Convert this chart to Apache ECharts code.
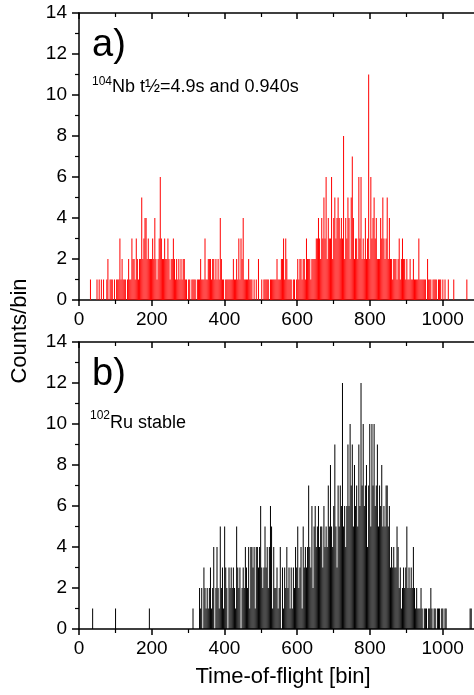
<!DOCTYPE html>
<html>
<head>
<meta charset="utf-8">
<script src="https://cdn.jsdelivr.net/npm/echarts@6/dist/echarts.min.js"></script>
<style>
  html, body { margin: 0; padding: 0; background: #fff; overflow: hidden; }
  #chart { width: 474px; height: 695px; }
</style>
</head>
<body>
<div id="chart"></div>
<script>
const binWidth = 3;
const xMax = 1200;          // the frame is cut at the right edge of the picture
const xTickStep = 200;
const yTickStep = 2;
const yMax = 14;

// a) 104Nb, one row = 90 bins of ToF (3 x 10 bins)
const nbCounts = [
  0,0,0,0,0,0,0,0,0,0,  1,0,0,0,0,0,1,0,1,0,  1,0,1,0,0,1,2,0,1,1,
  1,0,1,0,1,1,1,3,1,2,  1,1,1,0,1,2,1,1,3,2,  2,1,3,2,1,2,2,5,2,3,
  4,4,2,3,2,2,2,3,2,4,  2,1,2,3,6,3,2,2,3,2,  2,3,2,1,2,2,3,2,1,2,
  1,2,1,2,1,2,2,1,1,0,  1,1,0,1,1,1,1,0,1,1,  1,2,1,1,1,3,1,1,2,2,
  2,1,2,2,1,2,1,2,1,4,  2,1,1,0,1,1,1,1,1,1,  1,2,1,1,2,1,3,1,3,2,
  4,1,1,1,1,2,1,1,1,0,  1,0,1,0,2,0,0,1,0,1,  1,1,1,1,0,1,1,1,1,1,
  1,2,1,1,1,2,2,3,1,3,  2,1,1,1,1,0,1,1,0,1,  2,1,2,2,1,2,2,1,3,2,
  2,2,1,2,2,2,2,3,3,4,  3,2,4,3,5,3,6,2,4,3,  3,6,2,4,5,3,4,5,4,3,
  4,3,8,2,4,3,5,4,2,5,  7,4,2,3,3,2,6,3,6,2,  3,2,4,2,3,11,2,6,3,4,
  5,3,4,2,2,2,4,3,5,3,  2,3,5,2,4,2,2,1,2,2,  2,1,2,3,1,2,3,2,2,1,
  2,1,1,2,1,1,2,1,1,1,  1,3,1,1,1,1,1,1,0,2,  1,1,1,0,1,1,1,1,0,1,
  1,1,0,1,0,1,0,0,1,0,  0,0,0,1,0,0,0,0,0,0,  0,0,0,0,0,1,0,0,0,0
];

// b) 102Ru
const ruCounts = [
  0,0,0,0,0,0,0,0,0,0,  0,0,1,0,0,0,0,0,0,0,  0,0,0,0,0,0,0,0,0,0,
  0,0,0,1,0,0,0,0,0,0,  0,0,0,0,0,0,0,0,0,0,  0,0,0,0,0,0,0,0,0,0,
  0,0,0,0,1,0,0,0,0,0,  0,0,0,0,0,0,0,0,0,0,  0,0,0,0,0,0,0,0,0,0,
  0,0,0,0,0,0,0,0,0,0,  0,0,0,0,1,0,0,0,0,0,  2,1,2,0,3,2,1,2,1,2,
  3,1,2,4,0,2,4,2,1,5,  2,3,1,5,3,2,0,3,2,3,  2,3,2,1,5,3,2,3,0,2,
  3,2,4,3,2,4,1,4,4,3,  4,1,4,4,3,4,6,3,2,3,  5,3,4,2,4,6,5,1,4,2,
  2,3,1,2,4,0,3,1,3,2,  4,2,3,1,3,1,3,2,4,3,  5,2,3,4,1,5,3,4,3,4,
  7,4,3,6,2,5,6,4,5,6,  4,5,5,3,6,4,5,4,7,5,  8,5,4,6,9,5,3,7,5,7,
  6,12,5,6,4,6,9,6,10,7, 9,5,8,6,7,5,9,6,12,7, 10,6,7,8,4,7,10,5,10,7,
  10,6,7,9,5,7,6,8,5,6, 5,7,7,5,6,3,4,3,4,3,  3,5,4,2,3,1,2,3,2,3,
  5,2,3,2,3,2,4,2,1,2,  1,1,1,2,1,0,1,1,1,0,  1,1,2,1,0,1,1,0,1,1,
  1,0,1,1,0,1,1,0,0,0,  0,0,0,0,0,0,0,0,0,0,  0,0,0,0,0,0,0,0,1,1
];

const FONT = '"Liberation Sans", Arial, sans-serif';
const chart = echarts.init(document.getElementById('chart'), null, { renderer: 'canvas' });

function toBars(counts) {
  return counts.map((v, i) => [i * binWidth + binWidth / 2, v]);
}

const lineStyle = { color: '#000', width: 1.5 };
const minorStyle = { color: '#000', width: 1.2 };

function xAxesFor(gridIndex) {
  return [
    {
      type: 'value', gridIndex, position: 'bottom',
      min: 0, max: xMax, interval: xTickStep,
      axisLine: { onZero: false, lineStyle },
      axisTick: { length: 6, lineStyle },
      minorTick: { show: true, splitNumber: 2, length: 4, lineStyle: minorStyle },
      axisLabel: {
        margin: 10, fontSize: 19, color: '#000', fontFamily: FONT,
        showMaxLabel: false, formatter: v => String(v)
      },
      splitLine: { show: false }
    },
    {
      type: 'value', gridIndex, position: 'top',
      min: 0, max: xMax, interval: xTickStep,
      axisLine: { onZero: false, lineStyle },
      axisTick: { inside: true, length: 6, lineStyle },
      minorTick: { show: true, splitNumber: 2, length: 4, lineStyle: minorStyle },
      axisLabel: { show: false },
      splitLine: { show: false }
    }
  ];
}

function yAxisFor(gridIndex) {
  return {
    type: 'value', gridIndex, position: 'left',
    min: 0, max: yMax, interval: yTickStep,
    axisLine: { show: true, onZero: false, lineStyle },
    axisTick: { show: true, length: 7, lineStyle },
    minorTick: { show: true, splitNumber: 2, length: 4, lineStyle: minorStyle },
    axisLabel: { margin: 12, fontSize: 19, color: '#000', fontFamily: FONT },
    splitLine: { show: false }
  };
}

function label(text, x, y, size) {
  return {
    type: 'text', x, y, silent: true,
    style: {
      text, fill: '#000', font: size + 'px ' + FONT,
      textAlign: 'left', textVerticalAlign: 'top', align: 'left', verticalAlign: 'top'
    }
  };
}

function centred(text, x, y, size, rotation) {
  return {
    type: 'text', x, y, rotation: rotation || 0, silent: true,
    style: {
      text, fill: '#000', font: size + 'px ' + FONT,
      textAlign: 'center', textVerticalAlign: 'middle', align: 'center', verticalAlign: 'middle'
    }
  };
}

const option = {
  animation: false,
  backgroundColor: '#fff',
  grid: [
    { left: 79, top: 13, width: 436.4, height: 287, outerBoundsMode: 'none' },
    { left: 79, top: 342, width: 436.4, height: 287, outerBoundsMode: 'none' }
  ],
  xAxis: [...xAxesFor(0), ...xAxesFor(1)],
  yAxis: [yAxisFor(0), yAxisFor(1)],
  series: [
    {
      type: 'bar', xAxisIndex: 0, yAxisIndex: 0,
      data: toBars(nbCounts), barWidth: 1,
      itemStyle: { color: '#ff0000' }, silent: true
    },
    {
      type: 'bar', xAxisIndex: 2, yAxisIndex: 1,
      data: toBars(ruCounts), barWidth: 0.9,
      itemStyle: { color: '#000000' }, silent: true
    }
  ],
  graphic: [
    label('a)', 92, 27, 38),
    label('104', 92, 76, 12),
    label('Nb t\u00bd=4.9s and 0.940s', 112, 78, 18),
    label('b)', 92, 356, 38),
    label('102', 90, 410, 12),
    label('Ru stable', 110, 414, 18),
    centred('Counts/bin', 20, 331, 22, Math.PI / 2),
    centred('Time-of-flight [bin]', 283, 677, 22)
  ]
};

chart.setOption(option);
</script>
</body>
</html>
